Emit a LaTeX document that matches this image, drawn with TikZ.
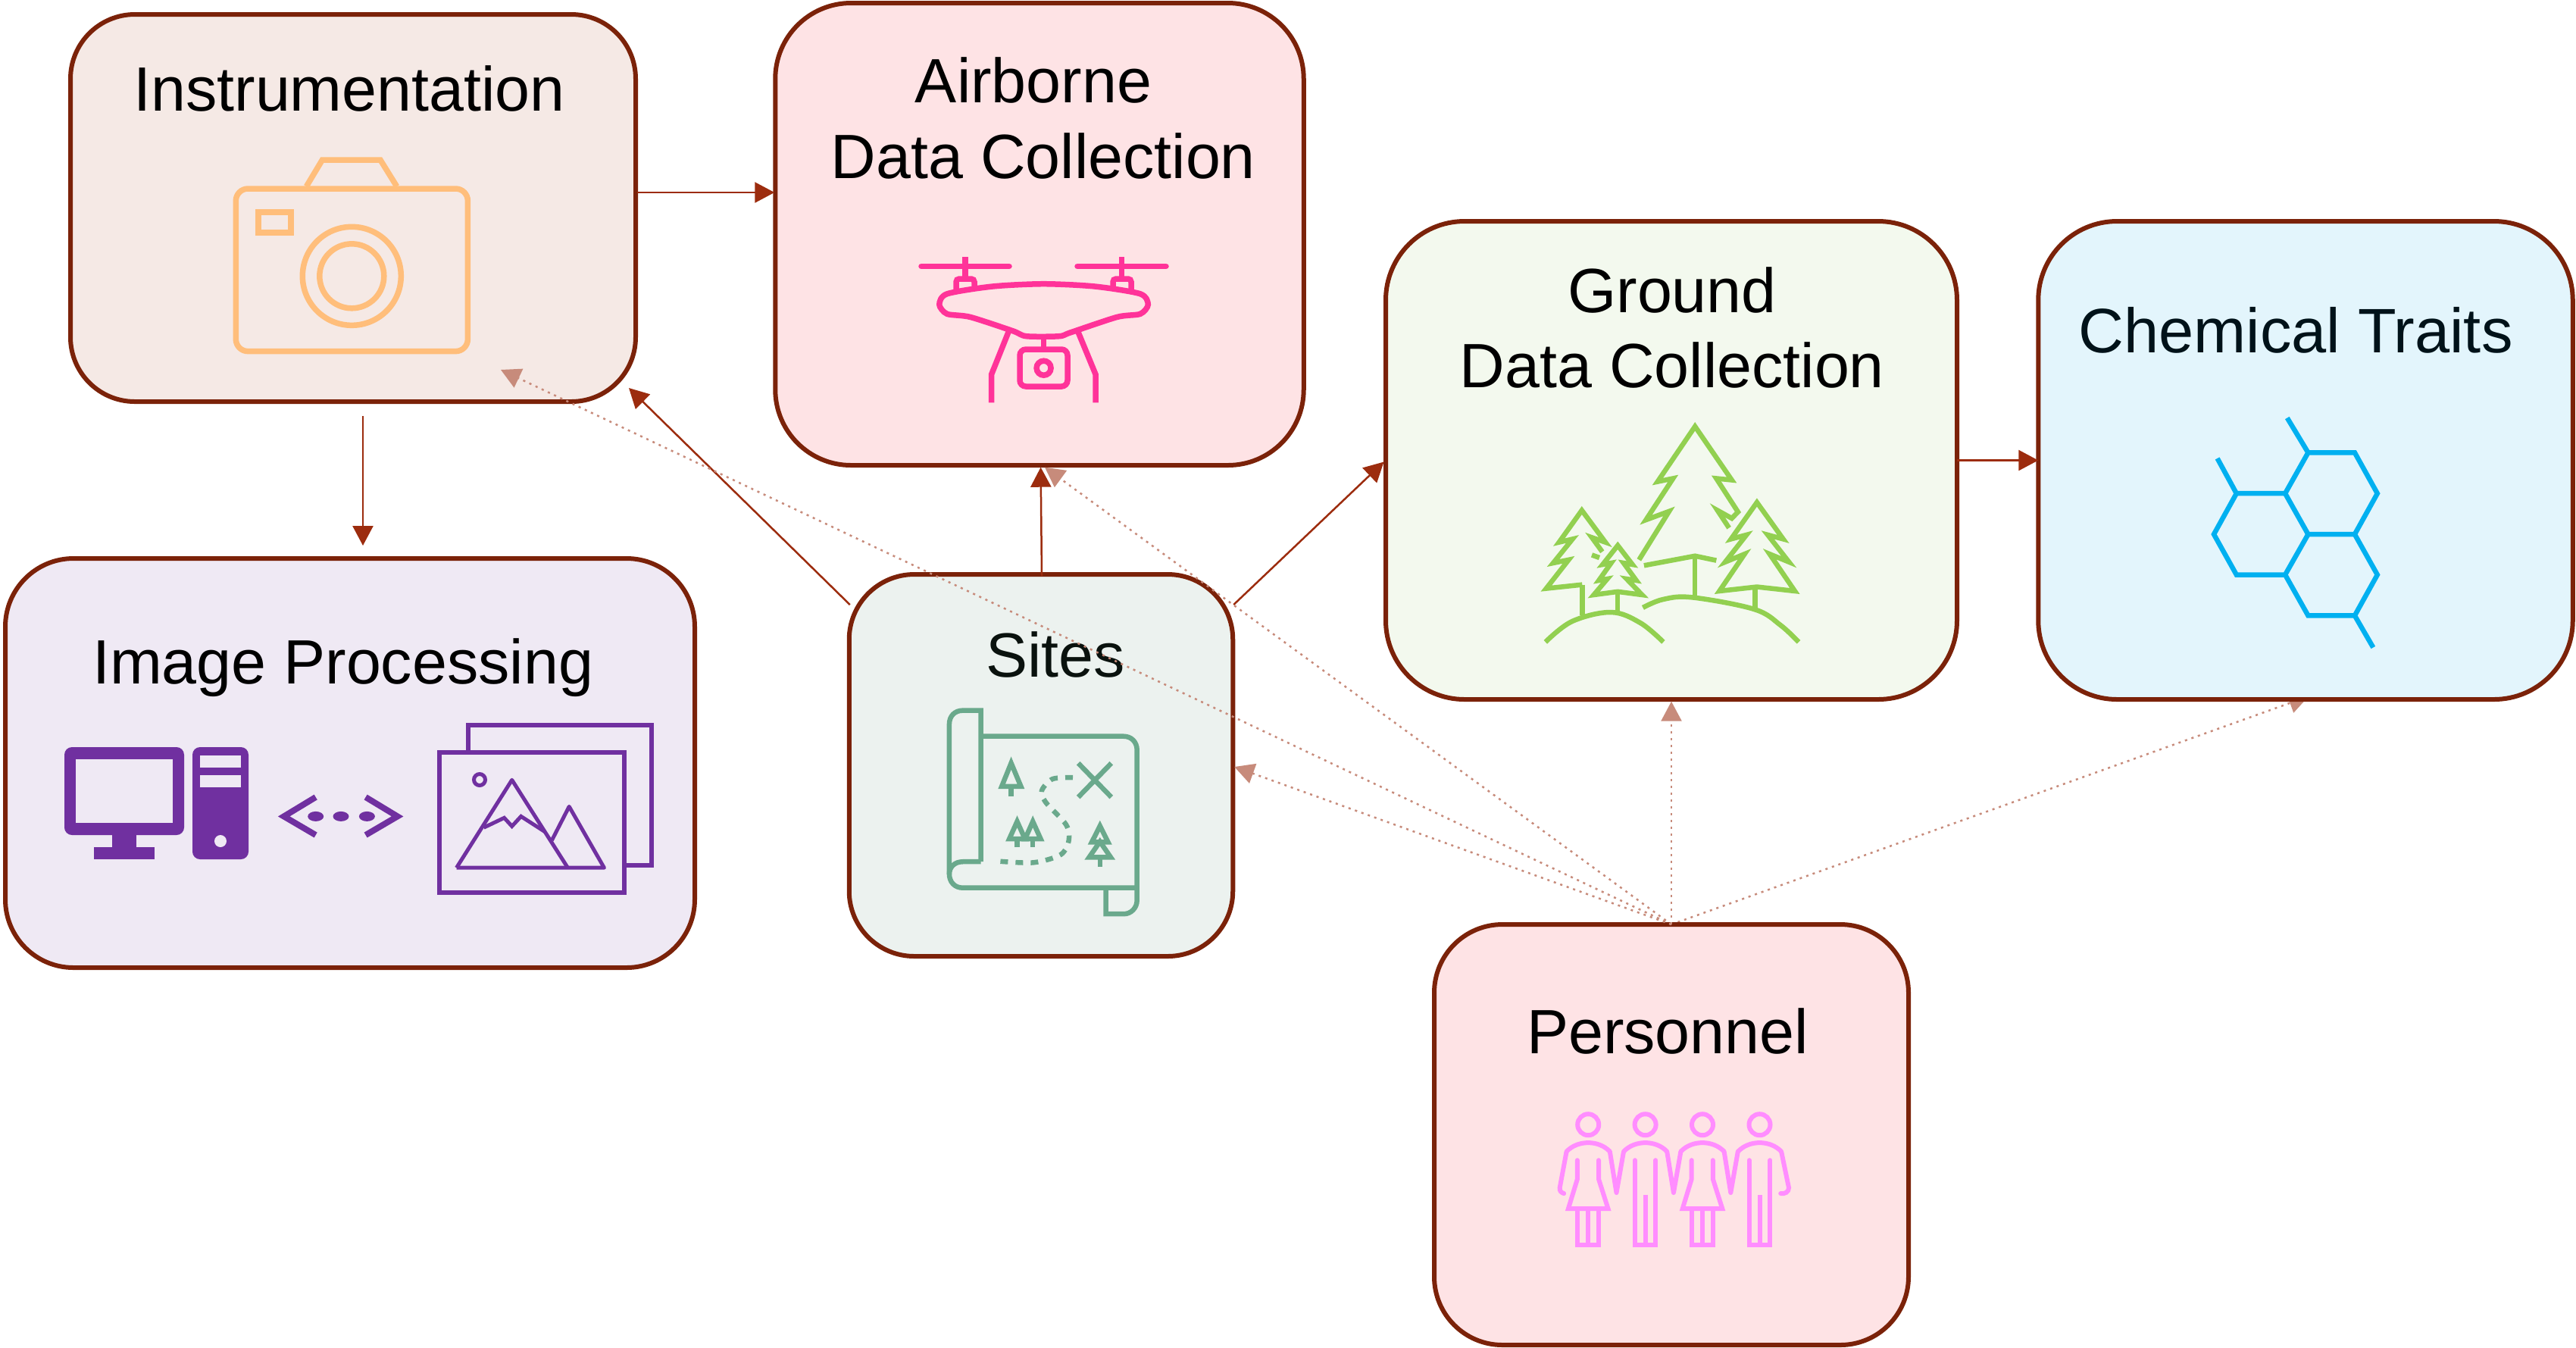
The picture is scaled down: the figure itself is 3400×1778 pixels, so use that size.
\documentclass[tikz,border=0pt]{standalone}
\usepackage{xcolor}
\usepackage{fontspec}
\setmainfont{Liberation Sans}
\usetikzlibrary{arrows.meta,backgrounds,calc}
\definecolor{boxline}{RGB}{123,34,9}
\definecolor{flowred}{RGB}{156,44,14}
\definecolor{flowpale}{RGB}{199,139,123}
\definecolor{instrfill}{RGB}{245,233,229}
\definecolor{airfill}{RGB}{254,227,229}
\definecolor{groundfill}{RGB}{243,249,238}
\definecolor{chemfill}{RGB}{227,245,252}
\definecolor{imagefill}{RGB}{239,233,244}
\definecolor{sitesfill}{RGB}{236,242,239}
\definecolor{camcolor}{RGB}{255,190,123}
\definecolor{dronecolor}{RGB}{255,51,153}
\definecolor{treecolor}{RGB}{146,208,80}
\definecolor{hexcolor}{RGB}{0,176,240}
\definecolor{imagecolor}{RGB}{112,48,160}
\definecolor{mapcolor}{RGB}{106,169,140}
\definecolor{peoplecolor}{RGB}{255,141,255}
\definecolor{sitestext}{RGB}{10,18,14}
\definecolor{chemtext}{RGB}{0,18,25}

\begin{document}
\begin{tikzpicture}[
    x=0.1mm, y=-0.1mm,
    boxnode/.style={rectangle, draw=boxline, line width=0.6mm, inner sep=0pt, outer sep=0pt},
    title/.style={anchor=base, align=center, inner sep=0pt, font=\fontsize{23.5}{28.2}\selectfont},
    flow/.style={draw=flowred, line width=0.25mm, -{Triangle[length=2.6mm,width=2.7mm]}},
    flowdot/.style={draw=flowpale, line width=0.25mm, dash pattern=on 0.3mm off 0.6mm, -{Triangle[length=2.6mm,width=2.7mm]}},
    camline/.style={draw=camcolor, line width=0.75mm},
    droneline/.style={draw=dronecolor, line width=0.75mm},
    treeline/.style={draw=treecolor, line width=0.65mm},
    hexline/.style={draw=hexcolor, line width=0.65mm},
    imageline/.style={draw=imagecolor, line width=0.6mm},
    mapline/.style={draw=mapcolor, line width=0.65mm},
    peopleline/.style={draw=peoplecolor, line width=0.6mm},
    womanfig/.pic={
        \draw[peopleline] (0,0) circle (14);
        \draw[peopleline] (-28.6,35.5) .. controls (-14,20) and (14,20) .. (28.6,35.5);
        \draw[peopleline, line cap=round] (-14.3,47) -- (-14.3,71.8) -- (-26.3,111) -- (26.3,111) -- (13.8,71.8) -- (13.8,47);
        \draw[peopleline] (-14.3,111) -- (-14.3,158.4) -- (13.8,158.4) -- (13.8,111);
        \draw[peopleline] (0,111) -- (0,158.4);
    },
    manfig/.pic={
        \draw[peopleline] (0,0) circle (14);
        \draw[peopleline] (-28.6,35.5) .. controls (-14,20) and (14,20) .. (28.6,35.5);
        \draw[peopleline, line cap=round] (-13.8,47) -- (-13.8,158.4) -- (13.8,158.4) -- (13.8,47);
        \draw[peopleline] (0,92.7) -- (0,158.4);
    }
]
    \useasboundingbox (0,0) rectangle (3400,1778);

    \node[boxnode, fill=instrfill, rounded corners=8.5mm, minimum width=74.6mm, minimum height=51.1mm] (instrumentation) at (466,274.5) {};
    \node[boxnode, fill=airfill, rounded corners=10mm, minimum width=69.75mm, minimum height=61mm] (airborne) at (1372,309) {};
    \node[boxnode, fill=groundfill, rounded corners=10.4mm, minimum width=75.4mm, minimum height=63.1mm] (ground) at (2206,607.5) {};
    \node[boxnode, fill=chemfill, rounded corners=10.4mm, minimum width=70.55mm, minimum height=63.1mm] (chemical) at (3043,607.5) {};
    \node[boxnode, fill=imagefill, rounded corners=9mm, minimum width=91mm, minimum height=54mm] (imageproc) at (462,1007) {};
    \node[boxnode, fill=sitesfill, rounded corners=8.6mm, minimum width=50.65mm, minimum height=50.4mm] (sites) at (1374,1010) {};
    \node[boxnode, fill=airfill, rounded corners=9mm, minimum width=62.6mm, minimum height=55.5mm] (personnel) at (2206,1497.5) {};

    \node[title] (instrumentationtitle) at (461,146) {Instrumentation};
    \node[title] (airbornetitle) at (1377,235) {Airborne\hspace*{7.4pt}\\Data Collection};
    \node[title] (groundtitle) at (2207,511.5) {Ground\\Data Collection};
    \node[title, text=chemtext, font=\fontsize{23.6}{28}\selectfont] (chemicaltitle) at (3030,465) {Chemical Traits};
    \node[title] (imageproctitle) at (452.6,902.6) {Image Processing};
    \node[title, text=sitestext] (sitestitle) at (1393,893.4) {Sites};
    \node[title] (personneltitle) at (2201,1390.7) {Personnel};

    \draw[flow] ($(instrumentation.east)+(2,-20.5)$) -- ($(airborne.west)+(-1,-55)$);
    \draw[flow] ($(instrumentation.south)+(13,19)$) -- ($(imageproc.north)+(17,-17)$);
    \draw[flow] ($(sites.north west)+(1,40)$) -- ($(instrumentation.south east)+(-9,-18)$);
    \draw[flow] ($(sites.north)+(1,2)$) -- ($(airborne.south)+(1.6,2.7)$);
    \draw[flow] ($(sites.north east)+(1,40)$) -- ($(ground.west)+(-2.5,2)$);
    \draw[flow] (ground.east) -- (chemical.west);

    \draw[flowdot] (personnel.north) -- ($(ground.south)+(0,2.7)$);
    \draw[flowdot] (personnel.north) -- ($(sites.east)+(2,2)$);
    \draw[flowdot] (personnel.north) -- ($(instrumentation.south east)+(-178,-42)$);
    \draw[flowdot] (personnel.north) -- ($(airborne.south)+(7,2.7)$);
    \begin{scope}[on background layer]
        \draw[flowdot] (personnel.north) -- ($(chemical.south)+(4,-4)$);
    \end{scope}

    \draw[camline, rounded corners=1.6mm] (311.3,249) rectangle (617.4,463.6);
    \draw[camline] (404.4,246) -- (425.4,211) -- (502,211) -- (523.7,246);
    \draw[camline] (341,280) rectangle (384,307);
    \draw[camline] (464.3,364.3) circle (65);
    \draw[camline] (464.3,364.3) circle (42.5);

    \draw[droneline, line cap=round] (1216,351.4) -- (1332,351.4);
    \draw[droneline, line cap=round] (1422,351.4) -- (1539,351.4);
    \draw[droneline] (1274,339) -- (1274,367);
    \draw[droneline] (1480.6,339) -- (1480.6,367);
    \draw[droneline, rounded corners=0.4mm] (1262,384) -- (1262,368) -- (1286,368) -- (1286,381);
    \draw[droneline, rounded corners=0.4mm] (1469,381) -- (1469,368) -- (1493,368) -- (1493,384);
    \draw[droneline] plot[smooth cycle, tension=0.45] coordinates {(1250,387.8) (1310,378) (1377.6,374.7) (1445,378) (1505,387.8) (1515.3,402) (1505,414.3) (1474.5,418.4) (1413,438.8) (1398,443.7) (1354.6,443.7) (1336.7,436.7) (1280.6,418.4) (1250,414.3) (1239.8,402)};
    \draw[droneline] (1331.6,436.7) -- (1308.7,493.9) -- (1308.7,531.4);
    \draw[droneline] (1422.4,436.7) -- (1446,493.9) -- (1446,531.4);
    \draw[droneline] (1377.6,445) -- (1377.6,461);
    \draw[droneline, rounded corners=0.8mm] (1346,461) rectangle (1409,510);
    \draw[droneline] (1377.6,485.7) circle (9.5);

    \draw[treeline] (2163.3,738.8) -- (2203,674.8) -- (2172.4,686.1) -- (2208.2,631.4) -- (2187.8,635.6) -- (2237.2,562.8) -- (2285.7,633.5) -- (2265.3,631.4) -- (2293.9,675.6) -- (2285.7,684) -- (2266.8,673.5) -- (2282.1,696.7);
    \draw[treeline] (2169.9,746.3) -- (2237.2,733.7) -- (2265.3,739.6);
    \draw[treeline] (2237.2,733.7) -- (2237.2,787);
    \draw[treeline] (2088.3,771.6) -- (2040.8,776.6) -- (2070.4,738.8) -- (2050,743) -- (2075.5,711.4) -- (2057.7,715.6) -- (2087.8,673.5) -- (2118.9,715.6) -- (2101,709.3) -- (2114.8,728.2);
    \draw[treeline] (2101,732.4) -- (2111,736);
    \draw[treeline] (2088.3,771.6) -- (2088.3,812.4);
    \draw[treeline] (2135.2,780.8) -- (2103.6,785) -- (2121.4,764) -- (2110.2,766) -- (2126.5,743) -- (2115.3,745) -- (2135.2,719.8) -- (2154.6,745) -- (2142.9,743) -- (2159.7,766) -- (2146.9,764) -- (2167.3,785) -- cycle;
    \draw[treeline] (2135.2,780.8) -- (2135.2,806);
    \draw[treeline] (2318.9,774.5) -- (2269.4,780) -- (2302.6,731.2) -- (2277,741.7) -- (2305.1,705.9) -- (2284.7,711.4) -- (2318.9,663) -- (2353.6,711.4) -- (2333.2,705.9) -- (2361.2,741.7) -- (2335.7,731.2) -- (2368.9,780) -- cycle;
    \draw[treeline] (2316.3,774.5) -- (2316.3,806);
    \draw[treeline] plot[smooth, tension=0.6] coordinates {(2039.8,847.3) (2075,820) (2126.5,808) (2165,822) (2195.4,847.3)};
    \draw[treeline] plot[smooth, tension=0.6] coordinates {(2168.4,801.9) (2195,791) (2233.7,788.4) (2315.3,804) (2350,825) (2374,847.3)};

    \draw[hexline] (3018.8,551.5) -- (3046.4,597.3) -- (3107.9,597.3) -- (3137.8,651.2) -- (3107.9,705.1) -- (3046.4,705.1) -- (3016.1,651.2) -- (3046.4,597.3);
    \draw[hexline] (2926.6,604.9) -- (2951.8,651.2) -- (3016.1,651.2);
    \draw[hexline] (2951.8,651.2) -- (2922,705.1) -- (2951.8,758.5) -- (3016.1,758.5) -- (3046.4,705.1);
    \draw[hexline] (3107.9,705.1) -- (3137.8,758.5) -- (3107.9,812.4) -- (3046.4,812.4) -- (3016.1,758.5);
    \draw[hexline] (3107.9,812.4) -- (3132.3,854.5);

    \fill[imagecolor, rounded corners=1mm] (85,986) rectangle (243,1102);
    \fill[imagefill] (100,1002) rectangle (228,1086);
    \fill[imagecolor] (148,1100) rectangle (180,1118);
    \fill[imagecolor] (124,1118) rectangle (204,1134);
    \fill[imagecolor, rounded corners=1mm] (254,986) rectangle (328,1134);
    \fill[imagefill] (264,997) rectangle (318,1012.6);
    \fill[imagefill] (264,1023) rectangle (318,1039);
    \fill[imagefill] (291,1110) circle (8);
    \draw[imageline, line width=0.8mm] (416.7,1052) -- (374.7,1077.4) -- (416.7,1102);
    \draw[imageline, line width=0.8mm] (482.6,1052) -- (524.6,1077.4) -- (482.6,1102);
    \fill[imagecolor] (416.7,1077.4) ellipse (10.5 and 6.5);
    \fill[imagecolor] (450,1077.4) ellipse (10.5 and 6.5);
    \fill[imagecolor] (484.4,1077.4) ellipse (10.5 and 6.5);
    \draw[imageline] (617.5,993) -- (617.5,957) -- (860.3,957) -- (860.3,1141.5) -- (824.3,1141.5);
    \draw[imageline] (579.7,993) rectangle (824.3,1178);
    \draw[imageline, line width=0.5mm] (633,1029) circle (7.5);
    \draw[imageline, line width=0.5mm, line join=round] (602.5,1145.2) -- (675.7,1029.3) -- (749.4,1145.2);
    \draw[imageline, line width=0.5mm, line join=round] (602.5,1145.2) -- (797.4,1145.2) -- (751.2,1064.4) -- (728.4,1108.9);
    \draw[imageline, line width=0.5mm] (638.5,1092.2) -- (665.5,1079.3) -- (675.7,1090.4) -- (687.7,1077.4) -- (719.4,1097.8);

    \draw[mapline] (1294.6,1137.2) -- (1294.6,937.6) -- (1271,937.6) .. controls (1260,937.6) and (1252.9,945) .. (1252.9,956) -- (1252.9,1153) .. controls (1252.9,1164) and (1260,1171.7) .. (1271,1171.7) -- (1500.7,1171.7);
    \draw[mapline] (1294.6,971.7) -- (1483,971.7) .. controls (1493,971.7) and (1500.7,979) .. (1500.7,990) -- (1500.7,1188) .. controls (1500.7,1198) and (1493,1206.2) .. (1483,1206.2) -- (1459.6,1206.2) -- (1459.6,1171.7);
    \draw[mapline] (1294.6,1137.2) -- (1271,1137.2) .. controls (1260,1137.2) and (1252.9,1144) .. (1252.9,1154);
    \draw[mapline] (1423.2,1007.2) -- (1466.8,1052);
    \draw[mapline] (1466.8,1007.2) -- (1423.2,1052);
    \draw[mapline, dash pattern=on 1mm off 1mm] plot[smooth] coordinates {(1416,1026.2) (1389.3,1028) (1375,1043.4) (1380.4,1059) (1407.1,1088.3) (1410.7,1109) (1400,1127.9) (1364.3,1138.3) (1318.6,1136.6)};
    \draw[mapline] (1334.6,1007) -- (1322.1,1037.9) -- (1347.5,1037.9) -- cycle;
    \draw[mapline] (1334.6,1037.9) -- (1334.6,1051.4);
    \draw[mapline] (1342.5,1084.1) -- (1332.1,1107.2) -- (1352.9,1107.2) -- cycle;
    \draw[mapline] (1363.2,1084.1) -- (1352.9,1107.2) -- (1373.6,1107.2) -- cycle;
    \draw[mapline] (1342.5,1107.2) -- (1342.5,1117.6);
    \draw[mapline] (1363.2,1107.2) -- (1363.2,1117.6);
    \draw[mapline] (1451.8,1090) -- (1441,1111.4) -- (1462.5,1111.4) -- cycle;
    \draw[mapline] (1451.8,1110.7) -- (1437.5,1131.4) -- (1466,1131.4) -- cycle;
    \draw[mapline] (1451.8,1131.4) -- (1451.8,1144.1);

    \pic (womanone) at (2096.2,1484.2) {womanfig};
    \pic (manone) at (2171.6,1484.2) {manfig};
    \pic (womantwo) at (2247,1484.2) {womanfig};
    \pic (mantwo) at (2322.5,1484.2) {manfig};
    \foreach \hand in {2133.5,2208.9,2284.3} {
        \draw[peopleline, line cap=round, line join=round] (\hand-8.7,1519.7) -- (\hand,1574) -- (\hand+9.5,1519.7);
    }
    \draw[peopleline, line cap=round] (2067.6,1519.7) -- (2058.7,1567.4) .. controls (2058,1572) and (2061,1574) .. (2064.1,1575);
    \draw[peopleline, line cap=round] (2351.1,1519.7) -- (2361,1567.4) .. controls (2361,1573) and (2356,1576) .. (2350.2,1575);
\end{tikzpicture}
\end{document}
